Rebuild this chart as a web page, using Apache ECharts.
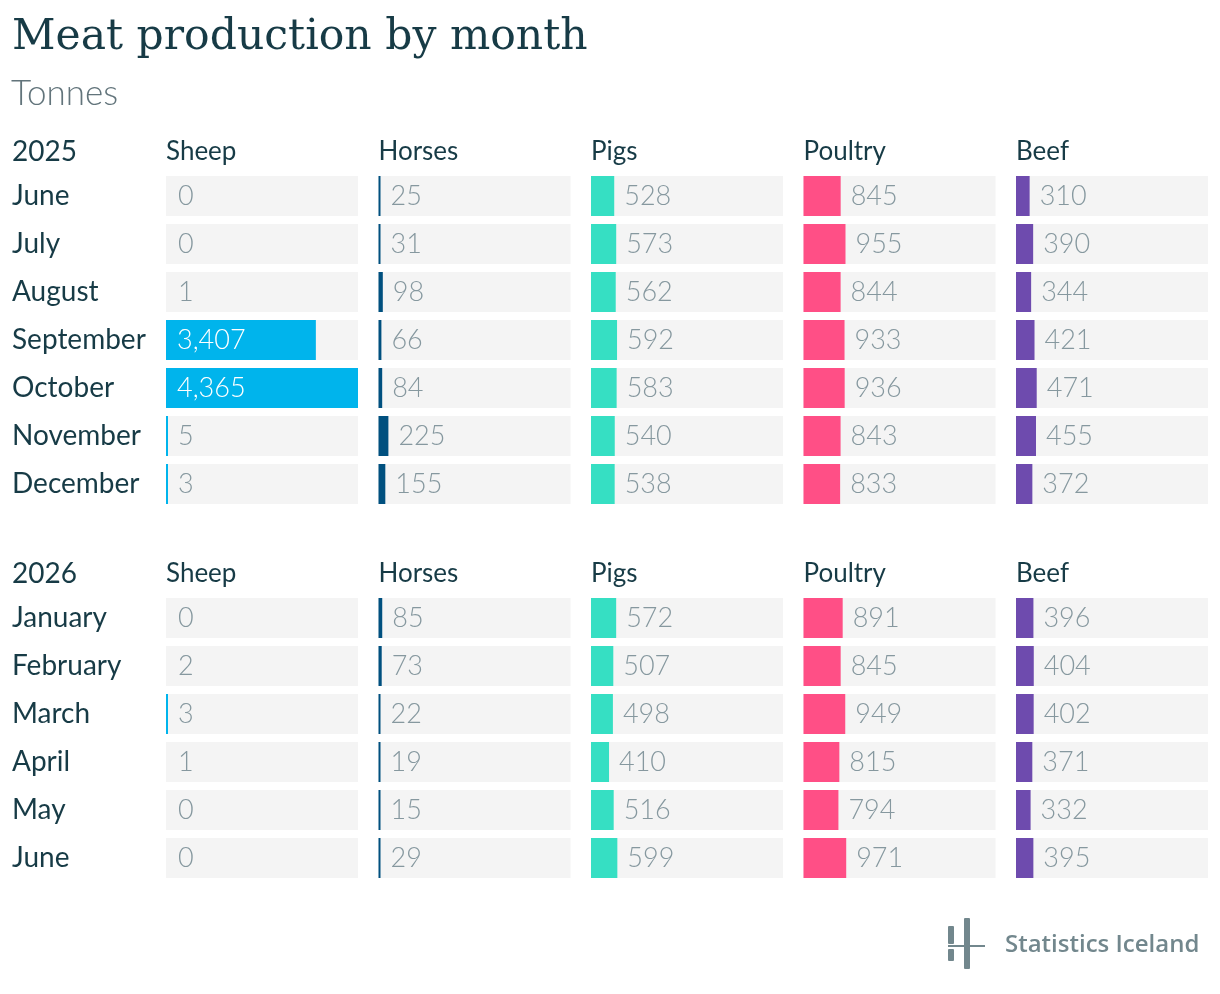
<!DOCTYPE html>
<html><head><meta charset="utf-8">
<script src="https://cdn.jsdelivr.net/npm/echarts@6/dist/echarts.min.js"></script>
<style>html,body{margin:0;padding:0;background:#fff}#c{width:1220px;height:994px}</style>
</head><body><div id="c"></div>
<script>
const titleText = 'Meat production by month';
const subtitleText = 'Tonnes';
const speciesNames = ['Sheep', 'Horses', 'Pigs', 'Poultry', 'Beef'];
const years = ['2025', '2026'];
const months2025 = ['June', 'July', 'August', 'September', 'October', 'November', 'December'];
const sheep2025 = [0, 0, 1, 3407, 4365, 5, 3];
const horses2025 = [25, 31, 98, 66, 84, 225, 155];
const pigs2025 = [528, 573, 562, 592, 583, 540, 538];
const poultry2025 = [845, 955, 844, 933, 936, 843, 833];
const beef2025 = [310, 390, 344, 421, 471, 455, 372];
const months2026 = ['January', 'February', 'March', 'April', 'May', 'June'];
const sheep2026 = [0, 2, 3, 1, 0, 0];
const horses2026 = [85, 73, 22, 19, 15, 29];
const pigs2026 = [572, 507, 498, 410, 516, 599];
const poultry2026 = [891, 845, 949, 815, 794, 971];
const beef2026 = [396, 404, 402, 371, 332, 395];

const colors = ['#00b4ec', '#00507f', '#36dfc3', '#ff4f86', '#6e4bae'];
const dark = '#173b46';
const grey = '#86989f';
const blocks = [
  { year: years[0], months: months2025, series: [sheep2025, horses2025, pigs2025, poultry2025, beef2025], headerY: 152, top: 172 },
  { year: years[1], months: months2026, series: [sheep2026, horses2026, pigs2026, poultry2026, beef2026], headerY: 574, top: 594 }
];
const allVals = blocks.flatMap(b => b.series.flat());
const maxVal = Math.max(...allVals);
const colLeft = [166, 378.5, 591, 803.5, 1016];
const colW = 192;
const rowH = 48;

const grids = [], xAxes = [], yAxes = [], series = [], graphics = [];
graphics.push({ type: 'text', left: 12, top: 16, style: { text: titleText, font: 'normal 42.5px "DejaVu Serif"', fill: dark } });
graphics.push({ type: 'text', left: 11, top: 76, style: { text: subtitleText, font: '300 35px Lato', fill: '#62747b' } });

let gi = 0;
blocks.forEach((b, bi) => {
  graphics.push({ type: 'text', x: 12, y: b.headerY, style: { text: b.year, font: 'normal 28px Lato', fill: dark, verticalAlign: 'middle' } });
  b.series.forEach((vals, si) => {
    graphics.push({ type: 'text', x: colLeft[si], y: b.headerY, style: { text: speciesNames[si], font: 'normal 26px Lato', fill: dark, verticalAlign: 'middle' } });
    grids.push({ left: colLeft[si], top: b.top, width: colW, height: b.months.length * rowH, containLabel: false });
    xAxes.push({ type: 'value', gridIndex: gi, min: 0, max: maxVal, show: false });
    yAxes.push({
      type: 'category', gridIndex: gi, data: b.months, inverse: true,
      axisLine: { show: false }, axisTick: { show: false }, splitLine: { show: false },
      axisLabel: { show: si === 0, align: 'left', margin: colLeft[0] - 12, fontFamily: 'Lato', fontSize: 28, color: dark, padding: [6, 0, 0, 0] }
    });
    series.push({
      type: 'bar', xAxisIndex: gi, yAxisIndex: gi, barWidth: 40, barMinHeight: 2,
      showBackground: true, backgroundStyle: { color: '#f4f4f4' },
      silent: true,
      data: vals.map(v => {
        const big = v / maxVal > 0.4;
        return {
          value: v,
          itemStyle: { color: v >= 3 ? colors[si] : 'rgba(0,0,0,0)' },
          label: {
            show: true,
            position: big ? 'insideLeft' : 'right',
            distance: big ? 11 : 10,
            color: big ? '#ffffff' : grey,
            fontFamily: 'Lato', fontWeight: 300, fontSize: 27,
            padding: [4, 0, 0, 0],
            formatter: () => v.toLocaleString('en-US')
          }
        };
      })
    });
    gi++;
  });
});

// logo
const lc = '#72878d';
graphics.push({ type: 'rect', shape: { x: 948, y: 926, width: 6, height: 18, r: 1 }, style: { fill: lc } });
graphics.push({ type: 'rect', shape: { x: 948, y: 949, width: 6, height: 12, r: 1 }, style: { fill: lc } });
graphics.push({ type: 'rect', shape: { x: 964, y: 918, width: 6, height: 51, r: 1 }, style: { fill: lc } });
graphics.push({ type: 'rect', shape: { x: 948, y: 945, width: 37, height: 2 }, style: { fill: lc } });
graphics.push({ type: 'text', x: 1005, y: 945, style: { text: 'Statistics Iceland', font: '600 24px "Open Sans"', fill: lc, verticalAlign: 'middle' } });

const chart = echarts.init(document.getElementById('c'), null, { renderer: 'canvas' });
chart.setOption({
  animation: false,
  backgroundColor: '#ffffff',
  grid: grids, xAxis: xAxes, yAxis: yAxes, series: series,
  graphic: graphics
});
</script></body></html>
